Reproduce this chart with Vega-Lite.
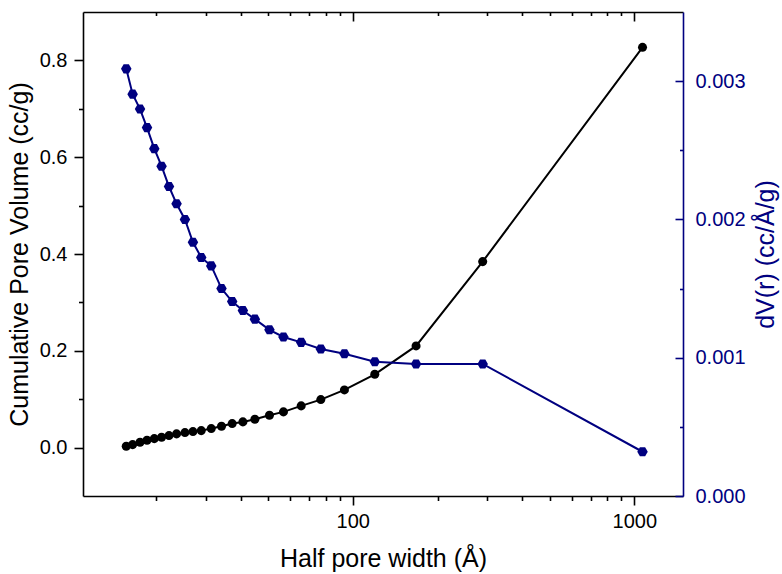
{
  "$schema": "https://vega.github.io/schema/vega-lite/v6.json",
  "width": 600,
  "height": 484,
  "autosize": "none",
  "padding": {"left": 83, "top": 12, "right": 99, "bottom": 78},
  "background": "white",
  "config": {
    "view": {"stroke": null},
    "axis": {"grid": false, "labelFont": "Liberation Sans", "titleFont": "Liberation Sans", "titleFontWeight": "normal", "labelFlush": false, "labelOverlap": false}
  },
  "data": {
    "values": [
      {"x": 15.67, "cum": 0.0027, "dv": 0.003089},
      {"x": 16.51, "cum": 0.0062, "dv": 0.002906},
      {"x": 17.54, "cum": 0.0110, "dv": 0.002798},
      {"x": 18.57, "cum": 0.0151, "dv": 0.002664},
      {"x": 19.71, "cum": 0.0186, "dv": 0.002512},
      {"x": 20.92, "cum": 0.0213, "dv": 0.002385},
      {"x": 22.23, "cum": 0.0248, "dv": 0.002238},
      {"x": 23.65, "cum": 0.0283, "dv": 0.002113},
      {"x": 25.33, "cum": 0.0310, "dv": 0.002000},
      {"x": 27.04, "cum": 0.0331, "dv": 0.001835},
      {"x": 28.94, "cum": 0.0351, "dv": 0.001725},
      {"x": 31.41, "cum": 0.0393, "dv": 0.001664},
      {"x": 34.16, "cum": 0.0440, "dv": 0.001500},
      {"x": 37.28, "cum": 0.0496, "dv": 0.001406},
      {"x": 40.69, "cum": 0.0531, "dv": 0.001341},
      {"x": 44.88, "cum": 0.0585, "dv": 0.001279},
      {"x": 50.57, "cum": 0.0667, "dv": 0.001202},
      {"x": 56.70, "cum": 0.0738, "dv": 0.001150},
      {"x": 65.54, "cum": 0.0862, "dv": 0.001111},
      {"x": 76.97, "cum": 0.0992, "dv": 0.001063},
      {"x": 93.37, "cum": 0.1192, "dv": 0.001029},
      {"x": 119.7, "cum": 0.1514, "dv": 0.000971},
      {"x": 167.8, "cum": 0.2101, "dv": 0.000955},
      {"x": 289.4, "cum": 0.3843, "dv": 0.000955},
      {"x": 1070, "cum": 0.8270, "dv": 0.000320}
    ]
  },
  "resolve": {
    "scale": {"x": "independent", "y": "independent"},
    "axis": {"x": "independent", "y": "independent"}
  },
  "layer": [
    {
      "mark": {"type": "line", "color": "black", "strokeWidth": 2},
      "encoding": {
        "x": {"field": "x", "type": "quantitative", "scale": {"type": "log", "domain": [11, 1490], "nice": false},
          "axis": {"orient": "bottom", "values": [100, 1000], "format": "d", "tickSize": 9, "tickWidth": 1.6, "tickColor": "black", "domainColor": "black", "domainWidth": 1.6, "labelFontSize": 20, "labelColor": "black", "labelPadding": 6,
            "title": "Half pore width (Å)", "titleFontSize": 25, "titleColor": "black", "titleX": 300, "titleY": 70, "titleBaseline": "alphabetic", "titleAlign": "center", "titleAngle": 0}},
        "y": {"field": "cum", "type": "quantitative", "scale": {"domain": [-0.1, 0.9], "nice": false, "zero": false},
          "axis": {"orient": "left", "values": [0, 0.2, 0.4, 0.6, 0.8], "format": ".1f", "tickSize": 9, "tickWidth": 1.6, "tickColor": "black", "domainColor": "black", "domainWidth": 1.6, "labelFontSize": 20, "labelColor": "black", "labelPadding": 7,
            "title": "Cumulative Pore Volume (cc/g)", "titleFontSize": 25, "titleColor": "black", "titleX": -56, "titleY": 242, "titleBaseline": "alphabetic", "titleAlign": "center", "titleAngle": -90}}
      }
    },
    {
      "mark": {"type": "point", "shape": "circle", "filled": true, "color": "black", "opacity": 1, "size": 82},
      "encoding": {
        "x": {"field": "x", "type": "quantitative", "scale": {"type": "log", "domain": [11, 1490], "nice": false},
          "axis": {"orient": "bottom", "values": [20, 30, 40, 50, 60, 70, 80, 90, 200, 300, 400, 500, 600, 700, 800, 900], "labels": false, "domain": false, "tickSize": 4.5, "tickWidth": 1.6, "tickColor": "black", "title": null}},
        "y": {"field": "cum", "type": "quantitative", "scale": {"domain": [-0.1, 0.9], "nice": false, "zero": false},
          "axis": {"orient": "left", "values": [0.1, 0.3, 0.5, 0.7], "labels": false, "domain": false, "tickSize": 4.5, "tickWidth": 1.6, "tickColor": "black", "title": null}}
      }
    },
    {
      "mark": {"type": "line", "color": "#000080", "strokeWidth": 2},
      "encoding": {
        "x": {"field": "x", "type": "quantitative", "scale": {"type": "log", "domain": [11, 1490], "nice": false},
          "axis": {"orient": "top", "values": [100, 1000], "labels": false, "tickSize": -9, "tickWidth": 1.6, "tickColor": "black", "domainColor": "black", "domainWidth": 1.6, "title": null}},
        "y": {"field": "dv", "type": "quantitative", "scale": {"domain": [0, 0.0035], "nice": false, "zero": false},
          "axis": {"orient": "right", "values": [0, 0.001, 0.002, 0.003], "format": ".3f", "ticks": false, "domainColor": "#000080", "domainWidth": 1.6, "labelFontSize": 20, "labelColor": "#000080", "labelPadding": 12,
            "title": "dV(r) (cc/Å/g)", "titleFontSize": 25, "titleColor": "#000080", "titleX": 90, "titleY": 242, "titleBaseline": "alphabetic", "titleAlign": "center", "titleAngle": -90}}
      }
    },
    {
      "mark": {"type": "point", "shape": "M -1 0 L -0.5 -0.866 L 0.5 -0.866 L 1 0 L 0.5 0.866 L -0.5 0.866 Z", "filled": true, "color": "#000080", "opacity": 1, "size": 110},
      "encoding": {
        "x": {"field": "x", "type": "quantitative", "scale": {"type": "log", "domain": [11, 1490], "nice": false},
          "axis": {"orient": "top", "values": [20, 30, 40, 50, 60, 70, 80, 90, 200, 300, 400, 500, 600, 700, 800, 900], "labels": false, "domain": false, "tickSize": -3.5, "tickWidth": 1.6, "tickColor": "black", "title": null}},
        "y": {"field": "dv", "type": "quantitative", "scale": {"domain": [0, 0.0035], "nice": false, "zero": false},
          "axis": {"orient": "right", "values": [0, 0.001, 0.002, 0.003], "labels": false, "domain": false, "tickSize": -8, "tickWidth": 1.6, "tickColor": "#000080", "title": null}}
      }
    },
    {
      "mark": {"type": "point", "opacity": 0, "size": 1},
      "encoding": {
        "x": {"field": "x", "type": "quantitative", "scale": {"type": "log", "domain": [11, 1490], "nice": false}, "axis": null},
        "y": {"field": "dv", "type": "quantitative", "scale": {"domain": [0, 0.0035], "nice": false, "zero": false},
          "axis": {"orient": "right", "values": [0.0005, 0.0015, 0.0025], "labels": false, "domain": false, "tickSize": -3.5, "tickWidth": 1.6, "tickColor": "#000080", "title": null}}
      }
    }
  ]
}
